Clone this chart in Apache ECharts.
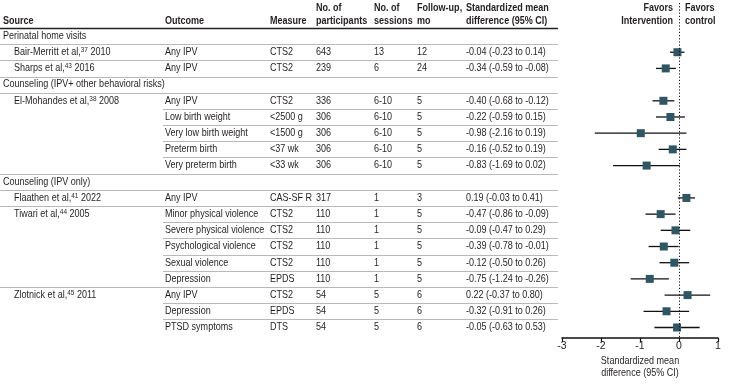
<!DOCTYPE html>
<html><head><meta charset="utf-8">
<script src="https://cdn.jsdelivr.net/npm/echarts@6/dist/echarts.min.js"></script>
<style>html,body{margin:0;padding:0;background:#fff}#c{width:745px;height:384px}</style>
</head><body><div id="c"></div>
<script>
// ---- data ----
const rowKind = ['S','D','D','S','D','D','D','D','D','S','D','D','D','D','D','D','D','D','D'];
const sourceText = ['Perinatal home visits','Bair-Merritt et al,','Sharps et al,','Counseling (IPV+ other behavioral risks)','El-Mohandes et al,','','','','','Counseling (IPV only)','Flaathen et al,','Tiwari et al,','','','','','Zlotnick et al,','',''];
const refs = [null,'37','43',null,'38',null,null,null,null,null,'41','44',null,null,null,null,'45',null,null];
const years = [null,'2010','2016',null,'2008',null,null,null,null,null,'2022','2005',null,null,null,null,'2011',null,null];
const outcomes = [null,'Any IPV','Any IPV',null,'Any IPV','Low birth weight','Very low birth weight','Preterm birth','Very preterm birth',null,'Any IPV','Minor physical violence','Severe physical violence','Psychological violence','Sexual violence','Depression','Any IPV','Depression','PTSD symptoms'];
const measures = [null,'CTS2','CTS2',null,'CTS2','<2500 g','<1500 g','<37 wk','<33 wk',null,'CAS-SF R','CTS2','CTS2','CTS2','CTS2','EPDS','CTS2','EPDS','DTS'];
const participants = [null,643,239,null,336,306,306,306,306,null,317,110,110,110,110,110,54,54,54];
const sessions = [null,'13','6',null,'6-10','6-10','6-10','6-10','6-10',null,'1','1','1','1','1','1','5','5','5'];
const followUp = [null,12,24,null,5,5,5,5,5,null,3,5,5,5,5,5,6,6,6];
const smd = [null,-0.04,-0.34,null,-0.40,-0.22,-0.98,-0.16,-0.83,null,0.19,-0.47,-0.09,-0.39,-0.12,-0.75,0.22,-0.32,-0.05];
const ciLow = [null,-0.23,-0.59,null,-0.68,-0.59,-2.16,-0.52,-1.69,null,-0.03,-0.86,-0.47,-0.78,-0.50,-1.24,-0.37,-0.91,-0.63];
const ciHigh = [null,0.14,-0.08,null,-0.12,0.15,0.19,0.19,0.02,null,0.41,-0.09,0.29,-0.01,0.26,-0.26,0.80,0.26,0.53];
const headerLine1 = ['', '', '', 'No. of', 'No. of', 'Follow-up,', 'Standardized mean'];
const headerLine2 = ['Source', 'Outcome', 'Measure', 'participants', 'sessions', 'mo', 'difference (95% CI)'];
const favorsLeft = ['Favors', 'Intervention'];
const favorsRight = ['Favors', 'control'];
const xTicks = [-3, -2, -1, 0, 1];
const axisTitle = ['Standardized mean', 'difference (95% CI)'];

// ---- style / layout ----
const FONT = '"Liberation Sans", Arial, sans-serif';
const FS = 10.5;
const SX = 0.86;
const TEXT = '#231f20';
const SQ = '#2e5763';
const colX = [3, 165, 270, 316, 374, 417, 466];
const indentX = 14;
const tableRight = 558;
const partialStart = 163;
const Y_MIN = -2.04, Y_MAX = 18.65;

function fmt(v) {
  const s = Math.abs(v).toFixed(2);
  return (v < 0 ? '-' : '') + s;
}

function txt(x, y, s, extra, align) {
  const a = align || 'left';
  return {
    type: 'text', x: x, y: y, scaleX: SX, silent: true,
    style: Object.assign({
      text: s, fill: TEXT, font: FS + 'px ' + FONT,
      align: a, verticalAlign: 'middle', textAlign: a, textVerticalAlign: 'middle'
    }, extra || {})
  };
}
function hline(x1, x2, y, color, w) {
  const yy = Math.round(y) + 0.5;
  return { type: 'line', silent: true, shape: { x1: x1, y1: yy, x2: x2, y2: yy }, style: { stroke: color, lineWidth: w } };
}

function renderTable(params, api) {
  const i = api.value(0);
  const y = api.coord([0, i])[1];
  const ch = [];
  if (rowKind[i] === 'S') {
    ch.push(txt(colX[0], y, sourceText[i]));
  } else {
    if (sourceText[i]) {
      ch.push(txt(indentX, y, '{a|' + sourceText[i] + '}{s|' + refs[i] + '}{a| ' + years[i] + '}', {
        font: undefined,
        rich: {
          a: { fontFamily: FONT, fontSize: FS, fill: TEXT, color: TEXT, lineHeight: 12 },
          s: { fontFamily: FONT, fontSize: 7.5, fill: TEXT, color: TEXT, verticalAlign: 'top' }
        }
      }));
    }
    ch.push(txt(colX[1], y, outcomes[i]));
    ch.push(txt(colX[2], y, measures[i]));
    ch.push(txt(colX[3], y, String(participants[i])));
    ch.push(txt(colX[4], y, sessions[i]));
    ch.push(txt(colX[5], y, String(followUp[i])));
    ch.push(txt(colX[6], y, fmt(smd[i]) + ' (' + fmt(ciLow[i]) + ' to ' + fmt(ciHigh[i]) + ')'));
  }
  if (i < rowKind.length - 1) {
    const yl = api.coord([0, i + 0.5])[1];
    const full = rowKind[i] === 'S' || rowKind[i + 1] === 'S' || sourceText[i + 1];
    ch.push(hline(full ? 0 : partialStart, tableRight, yl, '#b9b9b9', 1));
  }
  return { type: 'group', children: ch };
}

function renderHeader(params, api) {
  const y1 = api.coord([0, -1.72])[1];
  const y2 = api.coord([0, -0.92])[1];
  const yl = api.coord([0, -0.5])[1];
  const x0 = api.coord([0, 0])[0];
  const bold = { font: 'bold ' + FS + 'px ' + FONT };
  const ch = [];
  for (let k = 0; k < colX.length; k++) {
    if (headerLine1[k]) ch.push(txt(colX[k], y1, headerLine1[k], bold));
    ch.push(txt(colX[k], y2, headerLine2[k], bold));
  }
  ch.push(txt(x0 - 6, y1, favorsLeft[0], bold, 'right'));
  ch.push(txt(x0 - 6, y2, favorsLeft[1], bold, 'right'));
  ch.push(txt(x0 + 6, y1, favorsRight[0], bold));
  ch.push(txt(x0 + 6, y2, favorsRight[1], bold));
  const yy = Math.round(yl) + 0.5;
  ch.push({ type: 'line', silent: true, shape: { x1: 0, y1: yy, x2: tableRight, y2: yy }, style: { stroke: '#222', lineWidth: 1.3 } });
  // axis title, centred under the middle of the x axis
  const xm = api.coord([(xTicks[0] + xTicks[xTicks.length - 1]) / 2, 0])[0];
  const yb = api.coord([0, Y_MAX])[1];
  ch.push(txt(xm, yb + 23, axisTitle[0], null, 'center'));
  ch.push(txt(xm, yb + 35, axisTitle[1], null, 'center'));
  return { type: 'group', children: ch };
}

function renderForest(params, api) {
  const i = api.value(0), est = api.value(1), lo = api.value(2), hi = api.value(3);
  const pL = api.coord([lo, i]), pH = api.coord([hi, i]), pE = api.coord([est, i]);
  return {
    type: 'group', children: [
      { type: 'line', shape: { x1: pL[0], y1: pL[1], x2: pH[0], y2: pH[1] }, style: { stroke: '#111', lineWidth: 1.3 } },
      { type: 'rect', shape: { x: pE[0] - 4, y: pE[1] - 4, width: 8, height: 8 }, style: { fill: SQ } }
    ]
  };
}

const forestData = [];
const tableData = [];
for (let i = 0; i < rowKind.length; i++) {
  tableData.push([i]);
  if (rowKind[i] === 'D') forestData.push([i, smd[i], ciLow[i], ciHigh[i]]);
}

const chart = echarts.init(document.getElementById('c'), null, { renderer: 'canvas' });
chart.setOption({
  animation: false,
  backgroundColor: '#fff',
  textStyle: { fontFamily: FONT },
  grid: { left: 562, right: 27, top: 3, bottom: 384 - 338, containLabel: false },
  xAxis: {
    type: 'value', min: xTicks[0], max: xTicks[xTicks.length - 1], interval: 1,
    axisLine: { show: true, onZero: false, lineStyle: { color: '#111', width: 1.5 } },
    axisTick: { show: true, length: 4, lineStyle: { color: '#111', width: 1.2 } },
    axisLabel: { fontSize: FS, color: TEXT, margin: 3, fontFamily: FONT },
    splitLine: { show: false }
  },
  yAxis: { type: 'value', inverse: true, min: Y_MIN, max: Y_MAX, show: false },
  series: [
    { type: 'custom', name: 'header', data: [[0]], renderItem: renderHeader, clip: false, silent: true, encode: { y: 0 } },
    { type: 'custom', name: 'table', data: tableData, renderItem: renderTable, clip: false, silent: true, encode: { y: 0 } },
    {
      type: 'custom', name: 'forest', data: forestData, renderItem: renderForest, clip: false,
      encode: { x: [1, 2, 3], y: 0 },
      markLine: {
        silent: true, symbol: 'none', label: { show: false },
        lineStyle: { color: '#111', type: [1.2, 2], width: 1 },
        data: [{ xAxis: 0 }]
      }
    }
  ]
});
</script></body></html>
